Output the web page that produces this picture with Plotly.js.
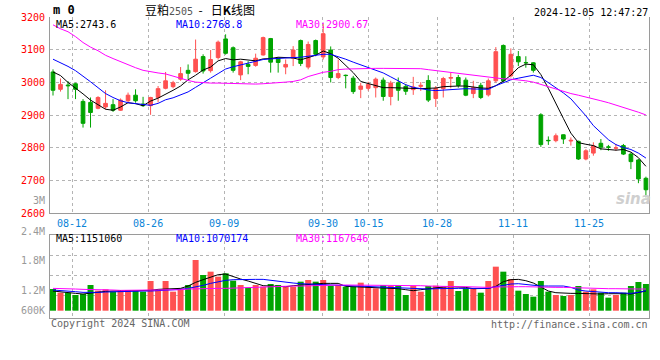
<!DOCTYPE html>
<html><head><meta charset="utf-8">
<script src="https://cdn.plot.ly/plotly-3.0.1.min.js"></script>
<style>html,body{margin:0;padding:0;background:#fff;}#chart{width:660px;height:360px;}</style>
</head><body><div id="chart"></div>
<script>
// ---------- DATA ----------
const dates = [
 '2024-08-07','2024-08-08','2024-08-09','2024-08-12','2024-08-13','2024-08-14','2024-08-15','2024-08-16','2024-08-19','2024-08-20',
 '2024-08-21','2024-08-22','2024-08-23','2024-08-26','2024-08-27','2024-08-28','2024-08-29','2024-08-30','2024-09-02','2024-09-03',
 '2024-09-04','2024-09-05','2024-09-06','2024-09-09','2024-09-10','2024-09-11','2024-09-12','2024-09-13','2024-09-18','2024-09-19',
 '2024-09-20','2024-09-23','2024-09-24','2024-09-25','2024-09-26','2024-09-27','2024-09-30','2024-10-08','2024-10-09','2024-10-10',
 '2024-10-11','2024-10-14','2024-10-15','2024-10-16','2024-10-17','2024-10-18','2024-10-21','2024-10-22','2024-10-23','2024-10-24',
 '2024-10-25','2024-10-28','2024-10-29','2024-10-30','2024-10-31','2024-11-01','2024-11-04','2024-11-05','2024-11-06','2024-11-07',
 '2024-11-08','2024-11-11','2024-11-12','2024-11-13','2024-11-14','2024-11-15','2024-11-18','2024-11-19','2024-11-20','2024-11-21',
 '2024-11-22','2024-11-25','2024-11-26','2024-11-27','2024-11-28','2024-11-29','2024-12-02','2024-12-03','2024-12-04','2024-12-05'];

const open = [3032,2979,2992,2996,2942,2939,2921,2925,2932,2915,2944,2961,2934,2929,2954,2982,2987,3010,3037,3033,
 3079,3036,3076,3133,3106,3023,3055,3052,3084,3134,3074,3047,3074,3128,3047,3128,3078,3099,3015,3022,
 3013,2979,2982,2984,3007,2957,2999,2988,2978,2988,3006,2951,2981,3013,3015,3007,2966,2991,2962,3005,
 3113,3020,3079,3061,3060,2901,2823,2822,2840,2821,2820,2766,2784,2814,2803,2799,2807,2781,2763,2707];
const high = [3040,3012,3004,2999,2949,2954,2958,2976,2949,2951,2969,2979,2956,2956,2989,3032,3005,3047,3055,3131,
 3086,3099,3128,3147,3110,3066,3065,3088,3140,3136,3076,3070,3111,3131,3125,3131,3179,3110,3070,3024,
 3020,2999,3002,3015,3015,3005,3015,2995,3017,3001,3022,2989,3017,3030,3023,3015,3005,2999,3012,3108,
 3116,3104,3096,3080,3062,2906,2835,2844,2841,2832,2822,2796,2817,2827,2809,2812,2812,2786,2766,2712];
const low = [2960,2972,2949,2949,2862,2862,2918,2918,2910,2913,2937,2938,2925,2901,2939,2979,2982,3005,3010,3030,
 3027,3030,3070,3085,3030,3007,3025,3048,3082,3030,3030,3025,3050,3050,3040,3080,3070,3000,3010,2982,
 2965,2952,2975,2954,2944,2930,2944,2962,2962,2974,2940,2925,2954,2982,2984,2958,2952,2949,2957,3000,
 3000,3015,3050,3045,3030,2803,2809,2817,2812,2807,2763,2762,2776,2793,2791,2791,2778,2735,2692,2649];
const close = [2976,2994,2990,2979,2875,2908,2954,2936,2915,2946,2961,2944,2929,2954,2981,3005,2999,3027,3028,3071,
 3035,3070,3123,3089,3037,3063,3049,3074,3137,3062,3061,3055,3099,3058,3116,3086,3149,3015,3027,3021,
 2972,2989,2994,3010,2957,2998,2976,2973,2986,2991,2946,2982,3012,3015,2991,2961,2984,2954,3005,3094,
 3005,3086,3063,3060,3037,2810,2822,2837,2827,2823,2766,2791,2806,2802,2802,2800,2781,2758,2705,2672];

const ma5 = [3032,3021,3000,2983,2965,2946,2933,2918,2915,2925,2938,2935,2929,2943,2952,2963,2976,2989,3008,3022,
 3038,3047,3066,3073,3069,3071,3068,3066,3072,3073,3077,3075,3075,3069,3076,3083,3096,3088,3074,3052,
 3030,3003,2997,2991,2984,2984,2983,2982,2980,2981,2982,2983,2987,2989,2989,2989,2985,2983,2982,2990,
 3004,3022,3045,3056,3054,3024,2982,2938,2890,2845,2816,2811,2807,2797,2794,2793,2795,2787,2770,2743.6];
const ma10 = [3071,3061,3049,3036,3020,3002,2984,2966,2954,2944,2938,2935,2933,2930,2936,2947,2953,2961,2971,2985,
 2998,3013,3027,3041,3048,3054,3060,3066,3070,3072,3074,3075,3076,3077,3080,3083,3086,3086,3079,3071,
 3062,3054,3045,3037,3029,3017,3005,2993,2985,2980,2977,2975,2977,2979,2981,2981,2980,2979,2979,2990,
 2999,3008,3013,3018,3022,3015,3000,2983,2968,2950,2925,2898,2868,2845,2825,2810,2801,2795,2784,2768.8];
const ma30 = [3176,3164,3155,3140,3122,3108,3097,3083,3073,3063,3055,3045,3037,3032,3029,3026,3019,3013,3006,3001,
 2999,2998,2998,2997,2997,2995,2994,2995,2996,2997,2999,3001,3003,3008,3018,3025,3031,3034,3039,3041,
 3042,3043,3043,3043,3043,3043,3043,3043,3043,3042,3039,3036,3034,3030,3028,3025,3023,3019,3015,3012,
 3011,3010,3008,3005,3001,2994,2986,2979,2972,2966,2961,2956,2950,2944,2938,2931,2925,2917,2909,2900.67];

const volume = [1251000,1141000,1141000,1071000,1101000,1371000,1201000,1241000,1171000,1221000,
 1221000,1191000,1171000,1491000,1221000,1491000,1171000,1271000,1371000,2121000,
 1671000,1771000,1621000,1721000,1501000,1371000,1291000,1371000,1321000,1401000,
 1371000,1321000,1321000,1471000,1521000,1471000,1521000,1351000,1371000,1321000,
 1321000,1441000,1321000,1271000,1371000,1341000,1371000,1071000,1341000,1171000,
 1341000,1351000,1321000,1491000,1191000,1271000,1271000,1141000,1491000,1921000,
 1771000,1551000,1201000,1101000,1021000,1491000,1171000,1071000,1041000,1071000,
 1341000,1171000,1241000,1141000,991000,1071000,1141000,1341000,1461000,1401000];
const volMa5 = [1190000,1160000,1140000,1120000,1100000,1130000,1160000,1180000,1190000,1190000,
 1190000,1190000,1190000,1210000,1240000,1250000,1260000,1270000,1340000,1450000,
 1530000,1610000,1680000,1700000,1620000,1550000,1490000,1420000,1350000,1340000,
 1330000,1320000,1350000,1370000,1390000,1410000,1420000,1420000,1420000,1330000,
 1320000,1320000,1310000,1290000,1280000,1270000,1260000,1230000,1200000,1230000,
 1260000,1290000,1310000,1320000,1320000,1300000,1260000,1260000,1270000,1330000,
 1470000,1530000,1540000,1500000,1430000,1310000,1190000,1140000,1120000,1120000,
 1120000,1110000,1100000,1100000,1110000,1120000,1110000,1100000,1150000,1190000];
const volMa10 = [1220000,1210000,1190000,1170000,1150000,1140000,1150000,1160000,1170000,1170000,
 1180000,1180000,1190000,1190000,1200000,1210000,1220000,1240000,1270000,1310000,
 1360000,1420000,1470000,1510000,1530000,1540000,1540000,1540000,1540000,1510000,
 1470000,1450000,1430000,1410000,1400000,1390000,1380000,1370000,1360000,1350000,
 1340000,1330000,1310000,1300000,1290000,1280000,1270000,1270000,1270000,1260000,
 1250000,1260000,1270000,1270000,1270000,1270000,1270000,1270000,1270000,1320000,
 1370000,1400000,1410000,1380000,1350000,1340000,1340000,1340000,1340000,1300000,
 1220000,1190000,1170000,1150000,1140000,1140000,1130000,1120000,1150000,1200000];
const volMa30 = [1270000,1270000,1270000,1250000,1240000,1240000,1240000,1240000,1220000,1210000,
 1210000,1210000,1210000,1210000,1220000,1220000,1220000,1230000,1250000,1260000,
 1270000,1270000,1270000,1270000,1280000,1280000,1290000,1300000,1300000,1310000,
 1320000,1330000,1340000,1340000,1350000,1350000,1360000,1370000,1370000,1370000,
 1370000,1370000,1370000,1370000,1370000,1370000,1360000,1360000,1350000,1350000,
 1340000,1330000,1330000,1320000,1320000,1320000,1310000,1300000,1300000,1310000,
 1320000,1320000,1320000,1320000,1310000,1310000,1310000,1300000,1300000,1290000,
 1280000,1270000,1270000,1270000,1260000,1260000,1250000,1250000,1250000,1250000];
const volMaLast = {ma5: 1151060, ma10: 1070174, ma30: 1167646};

const priceTicks = [2600,2700,2800,2900,3000,3100,3200];
const dateTicks = ['08-12','08-26','09-09','09-30','10-15','10-28','11-11','11-25'];
const volTickLabels = ['2.4M','1.8M','1.2M','600K'];
const titleName = '豆粕', titleCode = '2505', titleDash = '-', titleRest = '日', titleK = 'K', titleEnd = '线图';
const stamp = '2024-12-05 12:47:27';

// ---------- LAYOUT HELPERS ----------
const X0 = 50, X1 = 649, Y0 = 17, Y1 = 318;
const px = X => (X - X0) / (X1 - X0);
const py = Y => (Y1 - Y) / (Y1 - Y0);
const idx = dates.map((d, i) => i);
const RED = '#ff5151', GREEN = '#00a400';
const MONO = 'DejaVu Sans Mono, Liberation Mono, monospace';
const VOL_BASE = 600000;
// sina places its date grid slightly off the candle pitch
const tickIdx = dateTicks.map(t => dates.findIndex(d => d.slice(5) === t));
const tickPos = tickIdx.map(i => i * 1.013 - 0.5);

const traces = [
  {type:'candlestick', x: idx, open, high, low, close, xaxis:'x', yaxis:'y',
   increasing:{line:{color:RED, width:1}, fillcolor:RED},
   decreasing:{line:{color:GREEN, width:1}, fillcolor:GREEN},
   whiskerwidth:0, hoverinfo:'skip'},
  {type:'scatter', mode:'lines', x: idx, y: ma5, line:{color:'#000000', width:1}, xaxis:'x', yaxis:'y', hoverinfo:'skip'},
  {type:'scatter', mode:'lines', x: idx, y: ma10, line:{color:'#0000ff', width:1}, xaxis:'x', yaxis:'y', hoverinfo:'skip'},
  {type:'scatter', mode:'lines', x: idx, y: ma30, line:{color:'#ff00ff', width:1}, xaxis:'x', yaxis:'y', hoverinfo:'skip'},
  {type:'bar', x: idx, y: volume.map(v => v - VOL_BASE), base: VOL_BASE, width: 0.8,
   marker:{color: close.map((c, i) => c >= open[i] ? RED : GREEN), line:{width:0}},
   xaxis:'x2', yaxis:'y2', hoverinfo:'skip'},
  {type:'scatter', mode:'lines', x: idx, y: volMa5, line:{color:'#000000', width:1}, xaxis:'x2', yaxis:'y2', hoverinfo:'skip'},
  {type:'scatter', mode:'lines', x: idx, y: volMa10, line:{color:'#0000ff', width:1}, xaxis:'x2', yaxis:'y2', hoverinfo:'skip'},
  {type:'scatter', mode:'lines', x: idx, y: volMa30, line:{color:'#ff00ff', width:1}, xaxis:'x2', yaxis:'y2', hoverinfo:'skip'}
];

const xr = [-0.4, 79.41];
const gridStyle = {showgrid:true, gridcolor:'#b4b4b4', griddash:'dot', gridwidth:1};
const mainDomTop = py(213.3);
const volDomTop = py(235);

function ann(text, X, Y, color, xanchor, size, family, extra) {
  return Object.assign({text, x: px(X), y: py(Y), xref:'paper', yref:'paper',
    xanchor: xanchor || 'left', yanchor:'middle', showarrow:false,
    font:{family: family || MONO, size: size || 10, color: color || '#000'}}, extra || {});
}

const last = a => a[a.length - 1];
const titleHtml = titleName +
  '<span style="font-family:DejaVu Sans Mono;color:#555;font-size:10px">' + titleCode + '</span>' +
  '&nbsp;&nbsp;' + titleDash + '&nbsp;&nbsp;&nbsp;' + titleRest + '<b>' + titleK + '</b>' + titleEnd;
const annotations = [
  ann('<b>m 0</b>', 51, 10, '#000', 'left', 12, MONO),
  ann(titleHtml, 200, 10, '#000', 'center', 12, 'Noto Sans CJK SC'),
  ann(stamp, 650, 12, '#000', 'right', 10),
  ann('MA5:' + last(ma5), 54, 24, '#000', 'left', 10),
  ann('MA10:' + last(ma10), 174, 24, '#0000ff', 'left', 10),
  ann('MA30:' + last(ma30), 294, 24, '#ff00ff', 'left', 10),
  ann('MA5:' + volMaLast.ma5, 54, 238, '#000', 'left', 10),
  ann('MA10:' + volMaLast.ma10, 174, 238, '#0000ff', 'left', 10),
  ann('MA30:' + volMaLast.ma30, 294, 238, '#ff00ff', 'left', 10),
  ann('3M', 47, 200, '#999', 'right', 10),
  ann(volTickLabels[0], 47, 231, '#999', 'right', 10),
  ann(volTickLabels[1], 47, 260, '#999', 'right', 10),
  ann(volTickLabels[2], 47, 290.7, '#999', 'right', 10),
  ann(volTickLabels[3], 47, 310.7, '#999', 'right', 10),
  ann('Copyright 2024 SINA.COM', 49, 323, '#666', 'left', 10),
  ann('http://finance.sina.com.cn', 650, 324, '#666', 'right', 10),
  ann('<i><b>sina</b></i>', 633, 199, '#cfcfcf', 'center', 15, 'DejaVu Sans')
];

const layout = {
  width:660, height:360, paper_bgcolor:'#fff', plot_bgcolor:'#fff',
  margin:{l:X0, r:660 - X1, t:Y0, b:360 - Y1, pad:0},
  showlegend:false, hovermode:false, boxgap:0.3,
  xaxis: Object.assign({domain:[0,1], anchor:'y', range:xr, tickvals:tickPos, ticktext:dateTicks,
    tickfont:{family:MONO, size:10, color:'#0a84d8'}, ticks:'', ticklabelstandoff:1,
    showline:true, linecolor:'#9a9a9a', linewidth:1, mirror:false, zeroline:false,
    rangeslider:{visible:false}, fixedrange:true}, gridStyle),
  yaxis: Object.assign({domain:[mainDomTop,1], anchor:'x', range:[2600,3200], tickvals:priceTicks,
    tickfont:{family:MONO, size:10, color:'#ff0000'}, ticks:'', ticklabelstandoff:2,
    showline:true, linecolor:'#9a9a9a', linewidth:1, mirror:true, zeroline:false, fixedrange:true}, gridStyle),
  xaxis2: Object.assign({domain:[0,1], anchor:'y2', range:xr, tickvals:tickPos, showticklabels:false, ticks:'',
    showline:true, linecolor:'#9a9a9a', linewidth:1, mirror:true, zeroline:false, fixedrange:true}, gridStyle),
  yaxis2: Object.assign({domain:[0,volDomTop], anchor:'x2', range:[381000, 2871000],
    tickvals:[1050000,1650000,2250000], showticklabels:false, ticks:'',
    showline:true, linecolor:'#9a9a9a', linewidth:1, mirror:true, zeroline:false, fixedrange:true}, gridStyle),
  annotations
};

Plotly.newPlot('chart', traces, layout, {staticPlot:true, displayModeBar:false});
</script>
</body></html>
